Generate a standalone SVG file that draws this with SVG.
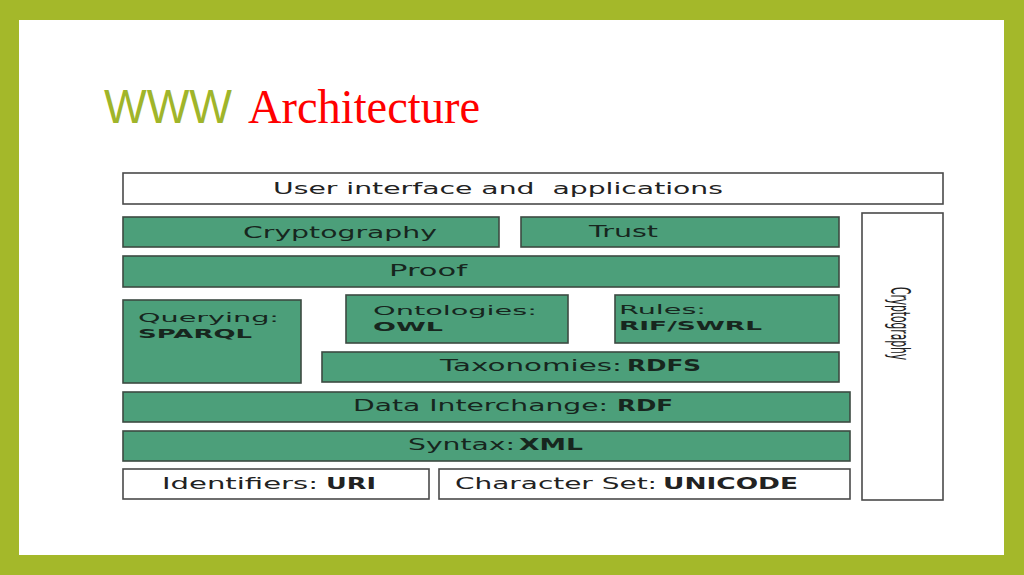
<svg xmlns="http://www.w3.org/2000/svg" width="1024" height="575" viewBox="0 0 1024 575">
<style>
.g{fill:#4c9f7a;stroke:#3c4a42;stroke-width:1.6}
.w{fill:#ffffff;stroke:#4a4a4a;stroke-width:1.6}
.t{font-family:"DejaVu Sans",sans-serif;font-size:15px;fill:#17261e}
.s{font-size:13px}
.b{font-weight:bold}
.k{fill:#222222}
</style>
<rect x="0" y="0" width="1024" height="575" fill="#a4b82a"/>
<rect x="19" y="20" width="985" height="535" fill="#ffffff"/>
<g id="title">
<text x="104" y="123" font-family="Liberation Sans, sans-serif" font-size="48" fill="#a0b52a" textLength="128" lengthAdjust="spacingAndGlyphs">WWW</text>
<text x="248" y="123" font-family="Liberation Serif, serif" font-size="48" fill="#ff0000" textLength="232" lengthAdjust="spacingAndGlyphs">Architecture</text>
</g>
<g id="ui"><rect class="w" x="123" y="173" width="820" height="31"/>
<text class="t k" x="273" y="194" xml:space="preserve" textLength="450" lengthAdjust="spacingAndGlyphs">User interface and  applications</text></g>
<g id="crypto"><rect class="g" x="123" y="217" width="376" height="30"/>
<text class="t" x="243" y="238" textLength="194" lengthAdjust="spacingAndGlyphs">Cryptography</text></g>
<g id="trust"><rect class="g" x="521" y="217" width="318" height="30"/>
<text class="t" x="589" y="237" textLength="69" lengthAdjust="spacingAndGlyphs">Trust</text></g>
<g id="proof"><rect class="g" x="123" y="256" width="716" height="31"/>
<text class="t" x="389" y="276" textLength="78" lengthAdjust="spacingAndGlyphs">Proof</text></g>
<g id="querying"><rect class="g" x="123" y="300" width="178" height="83"/>
<text class="t s" x="138" y="322" textLength="141" lengthAdjust="spacingAndGlyphs">Querying:</text>
<text class="t s b" x="138" y="338" textLength="114" lengthAdjust="spacingAndGlyphs">SPARQL</text></g>
<g id="ontologies"><rect class="g" x="346" y="295" width="222" height="48"/>
<text class="t s" x="373" y="315" textLength="164" lengthAdjust="spacingAndGlyphs">Ontologies:</text>
<text class="t s b" x="373" y="331" textLength="70" lengthAdjust="spacingAndGlyphs">OWL</text></g>
<g id="rules"><rect class="g" x="615" y="295" width="224" height="48"/>
<text class="t s" x="619" y="314" textLength="87" lengthAdjust="spacingAndGlyphs">Rules:</text>
<text class="t s b" x="619" y="330" textLength="143" lengthAdjust="spacingAndGlyphs">RIF/SWRL</text></g>
<g id="taxonomies"><rect class="g" x="322" y="352" width="517" height="30"/>
<text class="t" x="440" y="371" textLength="182" lengthAdjust="spacingAndGlyphs">Taxonomies:</text>
<text class="t b" x="627" y="371" textLength="74" lengthAdjust="spacingAndGlyphs">RDFS</text></g>
<g id="data"><rect class="g" x="123" y="392" width="727" height="30"/>
<text class="t" x="353" y="411" textLength="255" lengthAdjust="spacingAndGlyphs">Data Interchange:</text>
<text class="t b" x="617" y="411" textLength="56" lengthAdjust="spacingAndGlyphs">RDF</text></g>
<g id="syntax"><rect class="g" x="123" y="431" width="727" height="30"/>
<text class="t" x="408" y="450" textLength="107" lengthAdjust="spacingAndGlyphs">Syntax:</text>
<text class="t b" x="519" y="450" textLength="64" lengthAdjust="spacingAndGlyphs">XML</text></g>
<g id="identifiers"><rect class="w" x="123" y="469" width="306" height="30"/>
<text class="t k" x="162" y="489" textLength="156" lengthAdjust="spacingAndGlyphs">Identifiers:</text>
<text class="t k b" x="326" y="489" textLength="50" lengthAdjust="spacingAndGlyphs">URI</text></g>
<g id="charset"><rect class="w" x="439" y="469" width="411" height="30"/>
<text class="t k" x="455" y="489" textLength="202" lengthAdjust="spacingAndGlyphs">Character Set:</text>
<text class="t k b" x="663" y="489" textLength="135" lengthAdjust="spacingAndGlyphs">UNICODE</text></g>
<g id="crypto-side"><rect class="w" x="862" y="213" width="81" height="287"/>
<text class="t k" transform="translate(891,287) scale(1.75,1) rotate(90)" x="0" y="0" textLength="73" lengthAdjust="spacingAndGlyphs">Cryptography</text></g>
<g id="connectors"></g>
</svg>
